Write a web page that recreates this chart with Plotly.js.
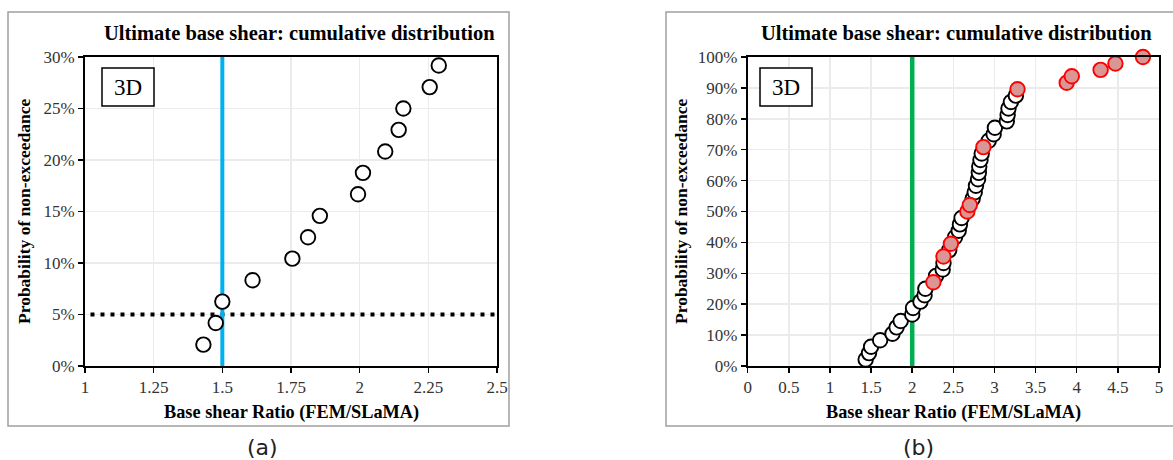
<!DOCTYPE html>
<html>
<head>
<meta charset="utf-8">
<script src="https://cdn.plot.ly/plotly-3.0.1.min.js"></script>
<style>html,body{margin:0;padding:0;background:#fff;}#chart{width:1173px;height:460px;}</style>
</head>
<body>
<div id="chart"></div>
<script>
// ---------- DATA ----------
// Panel (a): lowest 14 values of the cumulative distribution
const ratioA = [1.431, 1.476, 1.500, 1.610, 1.755, 1.812, 1.855, 1.994, 2.012, 2.093, 2.142, 2.159, 2.255, 2.288];
const probA  = [2.08, 4.17, 6.25, 8.33, 10.42, 12.50, 14.58, 16.67, 18.75, 20.83, 22.92, 25.00, 27.08, 29.17];

// Panel (b): full distribution, plain (white) markers
const ratioB = [1.434, 1.475, 1.500, 1.610, 1.760, 1.810, 1.860, 2.000, 2.010, 2.100, 2.150, 2.160,
                2.290, 2.370, 2.380, 2.450, 2.520, 2.565, 2.580, 2.600,
                2.735, 2.760, 2.775, 2.800, 2.810, 2.815, 2.830, 2.845,
                2.930, 2.990, 3.005, 3.150, 3.160, 3.170, 3.200, 3.260];
const probB  = [2.08, 4.17, 6.25, 8.33, 10.42, 12.50, 14.58, 16.67, 18.75, 20.83, 22.92, 25.00,
                29.17, 31.25, 33.33, 37.50, 41.67, 43.75, 45.83, 47.92,
                54.17, 56.25, 58.33, 60.42, 62.50, 64.58, 66.67, 68.75,
                72.92, 75.00, 77.08, 79.17, 81.25, 83.33, 85.42, 87.50];
// Panel (b): highlighted (red) markers
const ratioRed = [2.257, 2.380, 2.470, 2.670, 2.700, 2.865, 3.280, 3.878, 3.940, 4.290, 4.470, 4.805];
const probRed  = [27.08, 35.42, 39.58, 50.00, 52.08, 70.83, 89.58, 91.67, 93.75, 95.83, 97.92, 100.00];

// Reference lines
const limitA = 1.5;      // vertical line, panel (a)
const limitB = 2.0;      // vertical line, panel (b)
const pLimit = 5;        // 5% horizontal line, panel (a)
const rangeA = [1, 2.5];
const rangeB = [0, 5];
const probRangeA = [0, 30];
const probRangeB = [0, 100];
const dottedStart = 1.02;

const titleText = 'Ultimate base shear: cumulative distribution';
const xTitle = 'Base shear Ratio (FEM/SLaMA)';
const yTitle = 'Probability of non-exceedance';
const tagText = '3D';
const panelLabels = ['(a)', '(b)'];

// ---------- LAYOUT HELPERS ----------
const W = 1173, H = 460;
const px = x => x / W;
const py = y => 1 - y / H;
const serif = 'Liberation Serif';

const openMarker = {symbol: 'circle', size: 14.5, color: '#ffffff', line: {color: '#000000', width: 1.9}};
const redMarker  = {symbol: 'circle', size: 14.5, color: 'rgb(218,150,148)', line: {color: '#ff0000', width: 1.9}};

const traces = [
  // panel a
  {x: [dottedStart, rangeA[1]], y: [pLimit, pLimit], xaxis: 'x', yaxis: 'y', mode: 'lines',
   line: {color: '#000', width: 4, dash: '4px,6px'}, hoverinfo: 'skip', cliponaxis: false},
  {x: [limitA, limitA], y: probRangeA, xaxis: 'x', yaxis: 'y', mode: 'lines',
   line: {color: '#00b0f0', width: 4}, hoverinfo: 'skip'},
  {x: ratioA, y: probA, xaxis: 'x', yaxis: 'y', mode: 'markers', marker: openMarker, cliponaxis: false},
  // panel b
  {x: [limitB, limitB], y: probRangeB, xaxis: 'x2', yaxis: 'y2', mode: 'lines',
   line: {color: '#00b050', width: 4.5}, hoverinfo: 'skip'},
  {x: ratioB, y: probB, xaxis: 'x2', yaxis: 'y2', mode: 'markers', marker: openMarker, cliponaxis: false},
  {x: ratioRed, y: probRed, xaxis: 'x2', yaxis: 'y2', mode: 'markers', marker: redMarker, cliponaxis: false}
];

function axis(extra) {
  return Object.assign({
    showline: true, linecolor: '#000', linewidth: 2, mirror: true,
    ticks: 'outside', ticklen: 5, tickwidth: 1.5, tickcolor: '#000',
    showgrid: true, gridcolor: '#ebebeb', gridwidth: 1.5, zeroline: false,
    tickfont: {family: 'Liberation Serif', size: 17, color: '#333'}
  }, extra);
}

const layout = {
  width: W, height: H,
  margin: {l: 0, r: 0, t: 0, b: 0},
  font: {family: serif, size: 17, color: '#000'},
  paper_bgcolor: '#fff', plot_bgcolor: '#fff',
  showlegend: false,
  xaxis: axis({domain: [px(85), px(497)], anchor: 'y', range: rangeA, tick0: 1, dtick: 0.25}),
  yaxis: axis({domain: [py(366), py(57)], anchor: 'x', range: probRangeA, dtick: 5, ticksuffix: '%'}),
  xaxis2: axis({domain: [px(747.7), px(1159)], anchor: 'y2', range: rangeB, tick0: 0, dtick: 0.5}),
  yaxis2: axis({domain: [py(366), py(57)], anchor: 'x2', range: probRangeB, dtick: 10, ticksuffix: '%'}),
  shapes: [
    {type: 'rect', xref: 'paper', yref: 'paper', x0: px(8), x1: px(509), y0: py(426), y1: py(12),
     line: {color: '#a0a0a0', width: 1.5}, layer: 'below'},
    {type: 'rect', xref: 'paper', yref: 'paper', x0: px(666), x1: px(1180), y0: py(426), y1: py(12),
     line: {color: '#a0a0a0', width: 1.5}, layer: 'below'},
    {type: 'rect', xref: 'paper', yref: 'paper', x0: px(102), x1: px(154), y0: py(106), y1: py(68),
     line: {color: '#000', width: 1.5}, fillcolor: '#fff'},
    {type: 'rect', xref: 'paper', yref: 'paper', x0: px(760), x1: px(812), y0: py(106), y1: py(68),
     line: {color: '#000', width: 1.5}, fillcolor: '#fff'}
  ],
  annotations: [
    {text: '<b>' + titleText + '</b>', xref: 'paper', yref: 'paper', x: px(299), y: py(33), showarrow: false,
     font: {family: serif, size: 20.5, color: '#000'}, xanchor: 'center', yanchor: 'middle'},
    {text: '<b>' + titleText + '</b>', xref: 'paper', yref: 'paper', x: px(956), y: py(33), showarrow: false,
     font: {family: serif, size: 20.5, color: '#000'}, xanchor: 'center', yanchor: 'middle'},
    {text: '<b>' + xTitle + '</b>', xref: 'paper', yref: 'paper', x: px(291), y: py(412), showarrow: false,
     font: {family: serif, size: 18.3, color: '#000'}, xanchor: 'center', yanchor: 'middle'},
    {text: '<b>' + xTitle + '</b>', xref: 'paper', yref: 'paper', x: px(953), y: py(412), showarrow: false,
     font: {family: serif, size: 18.3, color: '#000'}, xanchor: 'center', yanchor: 'middle'},
    {text: '<b>' + yTitle + '</b>', xref: 'paper', yref: 'paper', x: px(24), y: py(212), showarrow: false, textangle: -90,
     font: {family: serif, size: 17.5, color: '#000'}, xanchor: 'center', yanchor: 'middle'},
    {text: '<b>' + yTitle + '</b>', xref: 'paper', yref: 'paper', x: px(681), y: py(212), showarrow: false, textangle: -90,
     font: {family: serif, size: 17.5, color: '#000'}, xanchor: 'center', yanchor: 'middle'},
    {text: tagText, xref: 'paper', yref: 'paper', x: px(128), y: py(87), showarrow: false,
     font: {family: serif, size: 23, color: '#000'}, xanchor: 'center', yanchor: 'middle'},
    {text: tagText, xref: 'paper', yref: 'paper', x: px(786), y: py(87), showarrow: false,
     font: {family: serif, size: 23, color: '#000'}, xanchor: 'center', yanchor: 'middle'},
    {text: panelLabels[0], xref: 'paper', yref: 'paper', x: px(262), y: py(447), showarrow: false,
     font: {family: 'DejaVu Sans', size: 22, color: '#222'}, xanchor: 'center', yanchor: 'middle'},
    {text: panelLabels[1], xref: 'paper', yref: 'paper', x: px(918), y: py(447), showarrow: false,
     font: {family: 'DejaVu Sans', size: 22, color: '#222'}, xanchor: 'center', yanchor: 'middle'}
  ]
};

Plotly.newPlot('chart', traces, layout, {displayModeBar: false, staticPlot: true});
</script>
</body>
</html>
